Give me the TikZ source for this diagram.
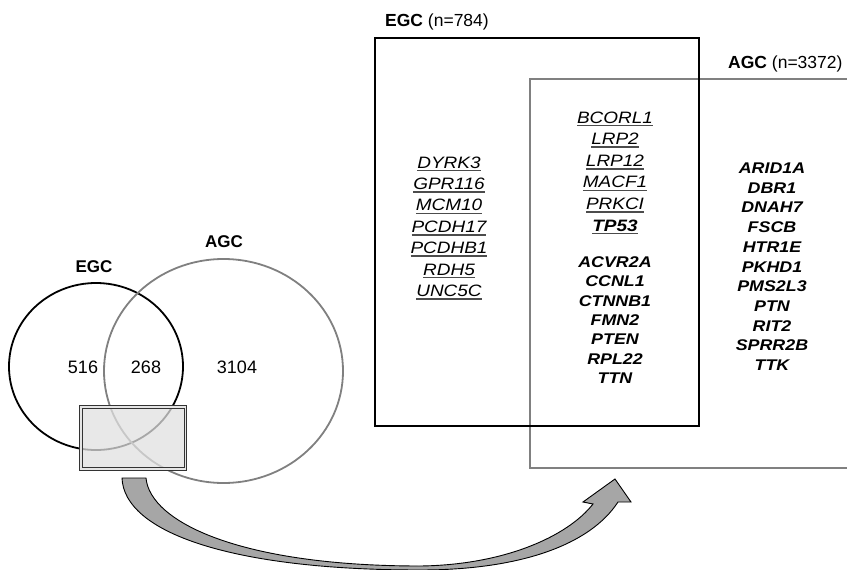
\documentclass[tikz,border=0pt]{standalone}
\usepackage{fontspec}
\setmainfont{Liberation Sans}
\newfontfamily\genefont[FakeStretch=1.15]{Liberation Sans}
\usetikzlibrary{positioning}
\newsavebox\genebox
\newcommand{\ulgene}[1]{\sbox\genebox{#1}\rlap{\color{black!70}\rule[-3.4pt]{\wd\genebox}{1.6pt}}\usebox\genebox}
\tikzset{
  egcline/.style={draw=black,line width=1.8pt},
  agcline/.style={draw=black!50,line width=1.8pt},
  count/.style={font=\fontsize{18}{20}\selectfont},
  setlab/.style={font=\fontsize{17}{20}\selectfont\bfseries},
  title/.style={font=\fontsize{17.5}{20}\selectfont,anchor=base west,inner sep=0pt},
  uline/.style={font=\genefont\fontsize{16.5}{20}\selectfont\itshape,anchor=base,inner sep=0pt},
  bline/.style={font=\genefont\fontsize{15.5}{20}\selectfont\bfseries\itshape,anchor=base,inner sep=0pt},
}

\begin{document}
\begin{tikzpicture}[x=1pt,y=-1pt]
\useasboundingbox (0,0) rectangle (847,570);
\clip (0,0) rectangle (847,570);

% Venn diagram
\draw[egcline] (96,366.5) ellipse[x radius=87,y radius=83.5];
\draw[agcline] (223.5,371) ellipse[x radius=119.5,y radius=112];
\node[setlab] (egclab) at (94,267) {EGC};
\node[setlab] (agclab) at (224,242) {AGC};
\node[count] (n516) at (83,367) {516};
\node[count] (n268) at (146,367) {268};
\node[count] (n3104) at (237,367) {3104};

% zoomed region
\fill[black!12,fill opacity=0.75] (81,407) rectangle (185.5,469);
\draw[draw=black!80,line width=1.2pt,double=black!10,double distance=1.1pt]
  (81,407) rectangle (185.5,469);

% curved arrow
\draw[fill=black!35,line width=0.9pt]
  (122,478) .. controls (124,532) and (230,570) .. (420,570)
  .. controls (520,570) and (590,545) .. (618,502)
  -- (631,502) -- (615,479) -- (583,502) -- (593,504)
  .. controls (568,536) and (505,565) .. (420,566)
  .. controls (240,566) and (150,522) .. (146,478) -- cycle;

% gene boxes
\draw[draw=black!50,line width=2.2pt] (530,79) rectangle (870,468);
\draw[draw=black,line width=2pt] (375,37.5) rectangle (699,426);
\node[title] (egctitle) at (385,27) {\textbf{EGC} (n=784)};
\node[title] (agctitle) at (728,68) {\textbf{AGC} (n=3372)};

% EGC only
\foreach \g [count=\i] in {DYRK3,GPR116,MCM10,PCDH17,PCDHB1,RDH5,UNC5C}
  \node[uline] (egc\i) at (449,{168+21.4*(\i-1)}) {\ulgene{\g}};

% shared
\foreach \g [count=\i] in {BCORL1,LRP2,LRP12,MACF1,PRKCI}
  \node[uline] (both\i) at (615,{123+21.6*(\i-1)}) {\ulgene{\g}};
\node[uline] (tp53) at (615,231) {\ulgene{\bfseries TP53}};
\foreach \g [count=\i] in {ACVR2A,CCNL1,CTNNB1,FMN2,PTEN,RPL22,TTN}
  \node[bline] (hot\i) at (615,{267.5+19.33*(\i-1)}) {\g};

% AGC only
\foreach \g [count=\i] in {ARID1A,DBR1,DNAH7,FSCB,HTR1E,PKHD1,PMS2L3,PTN,RIT2,SPRR2B,TTK}
  \node[bline] (agc\i) at (772,{173.5+19.7*(\i-1)}) {\g};
\end{tikzpicture}
\end{document}
